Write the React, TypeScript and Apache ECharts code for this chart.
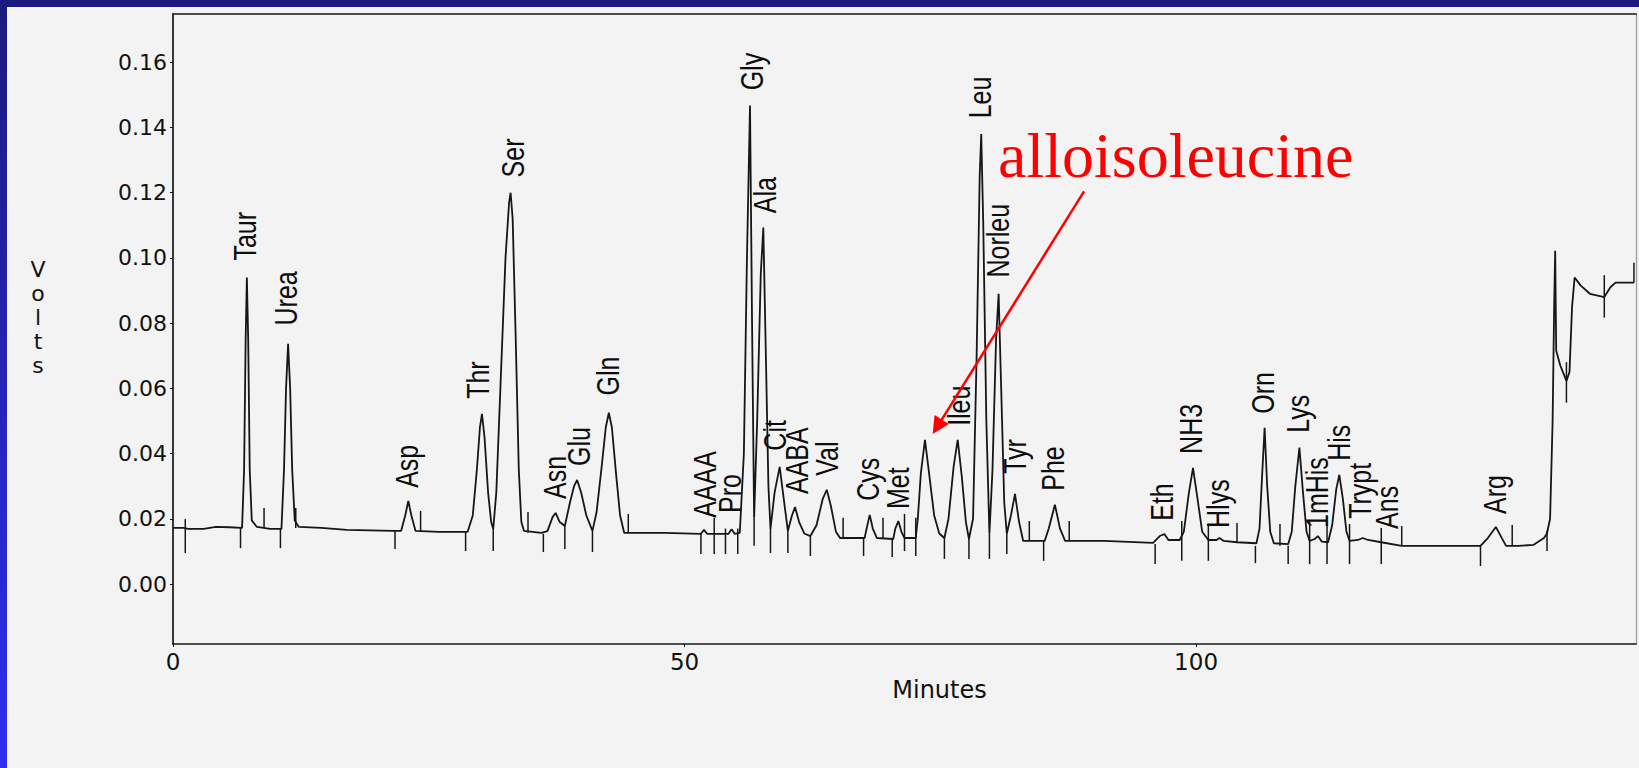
import React, { useEffect, useRef } from 'react';
import * as echarts from 'echarts';

// ---- chromatogram trace (minutes, volts) ----
const traceMinutes = [
  0, 1.0, 1.5, 3.0, 4.2, 5.5, 6.75, 6.95, 7.1, 7.22, 7.35, 7.5, 7.7, 8.2, 9.5,
  10.6, 10.85, 11.05, 11.25, 11.45, 11.65, 11.9, 12.3, 14.5, 17.0, 21.5,
  22.3, 22.7, 23.0, 23.3, 23.7, 26.0, 28.8, 29.3, 29.7, 30.0, 30.2, 30.45, 30.8, 31.1, 31.3,
  31.6, 32.0, 32.5, 32.85, 33.0, 33.2, 33.5, 33.8, 34.05, 34.3, 36.0,
  36.6, 37.1, 37.4, 37.8, 38.3, 38.8, 39.2, 39.5, 39.9, 40.4, 41.0,
  41.4, 41.9, 42.3, 42.6, 42.9, 43.3, 43.7, 44.1, 48.0, 51.6, 51.9, 52.2, 53.5,
  54.3, 54.6, 54.9, 55.4, 55.8, 56.1, 56.4, 56.6, 56.8, 57.1, 57.45, 57.7, 57.95, 58.2, 58.4,
  58.8, 59.3, 59.7, 60.1, 60.5, 60.8, 61.2, 61.7, 62.3, 62.9, 63.5, 63.9, 64.3, 64.8, 65.2,
  67.6, 67.8, 68.1, 68.4, 68.8, 70.4, 70.6, 70.9, 71.2, 71.5, 72.6,
  72.8, 73.1, 73.5, 73.9, 74.4, 74.9, 75.4, 75.8, 76.3, 76.7, 77.1, 77.5, 77.8,
  78.2, 78.55, 78.85, 79.0, 79.2, 79.5, 79.8, 80.1, 80.45, 80.7, 80.95, 81.25, 81.5,
  81.9, 82.3, 82.7, 83.1, 85.2, 85.6, 86.2, 86.7, 87.2, 91.0, 95.8,
  96.5, 96.9, 97.3, 98.4, 98.8, 99.3, 99.7, 100.1, 100.6, 101.2, 102.0, 102.3, 102.7, 104.0, 105.9,
  106.2, 106.45, 106.7, 106.95, 107.25, 107.6, 109.0, 109.35, 109.7, 110.1, 110.45, 110.8, 111.1,
  111.6, 111.9, 112.3, 112.9, 113.3, 113.7, 114.0, 114.35, 114.7, 115.0, 115.8, 116.3, 116.8,
  118.1, 120.1, 127.8, 128.5, 129.3, 129.9, 130.3, 131.5, 133.0, 134.0, 134.3,
  134.6, 134.85, 135.0, 135.1, 135.2, 135.6, 136.2, 136.5, 136.75, 137.0, 137.6, 138.5, 139.9,
  140.5, 141.0, 142.8,
];
const traceVolts = [
  0.0172, 0.0172, 0.0169, 0.0169, 0.0175, 0.0174, 0.0172, 0.035, 0.075, 0.094, 0.075, 0.035, 0.0195, 0.0175, 0.0169,
  0.0169, 0.035, 0.06, 0.0737, 0.06, 0.035, 0.0195, 0.0175, 0.0172, 0.0166, 0.0163,
  0.0163, 0.021, 0.0255, 0.021, 0.0163, 0.016, 0.016, 0.021, 0.035, 0.048, 0.0522, 0.045, 0.028, 0.019, 0.0169,
  0.028, 0.06, 0.1, 0.117, 0.12, 0.112, 0.075, 0.035, 0.019, 0.0163, 0.0157,
  0.0162, 0.0205, 0.0218, 0.019, 0.0178, 0.025, 0.03, 0.0319, 0.028, 0.021, 0.0163,
  0.022, 0.036, 0.048, 0.0525, 0.048, 0.034, 0.021, 0.0157, 0.0157, 0.0154, 0.0166, 0.0154, 0.0154,
  0.0154, 0.0168, 0.0154, 0.0157, 0.04, 0.1, 0.1467, 0.08, 0.0203, 0.05, 0.095, 0.1093, 0.07, 0.03, 0.0169,
  0.028, 0.0359, 0.026, 0.0163, 0.021, 0.0236, 0.019, 0.0155, 0.0147, 0.018, 0.026, 0.0289, 0.024, 0.016, 0.0141,
  0.0141, 0.017, 0.0212, 0.017, 0.0141, 0.0138, 0.017, 0.0193, 0.016, 0.0141, 0.0141,
  0.02, 0.034, 0.0442, 0.034, 0.021, 0.0155, 0.0141, 0.02, 0.036, 0.0442, 0.033, 0.019, 0.0138,
  0.02, 0.07, 0.125, 0.138, 0.11, 0.05, 0.0154, 0.035, 0.075, 0.089, 0.06, 0.025, 0.0154,
  0.021, 0.0276, 0.019, 0.0132, 0.0132, 0.017, 0.0243, 0.017, 0.0132, 0.0132, 0.0126,
  0.0148, 0.0153, 0.0135, 0.0135, 0.016, 0.028, 0.0356, 0.027, 0.016, 0.0135, 0.0135, 0.0141, 0.0132, 0.0128, 0.0125,
  0.017, 0.033, 0.0479, 0.03, 0.016, 0.0125, 0.0122, 0.016, 0.03, 0.0418, 0.028, 0.016, 0.0132,
  0.0138, 0.0147, 0.013, 0.0128, 0.018, 0.029, 0.0335, 0.026, 0.016, 0.0132, 0.0135, 0.0141, 0.0135,
  0.0128, 0.0117, 0.0117, 0.014, 0.0175, 0.014, 0.0117, 0.0117, 0.012, 0.0141, 0.0155,
  0.02, 0.05, 0.085, 0.1022, 0.0715, 0.067, 0.0623, 0.065, 0.085, 0.094, 0.0915, 0.089, 0.088,
  0.091, 0.0924, 0.0924,
];

// ---- integration marks: minute, volts at one end, volts at the other ----
const markMinutes = [
  1.2, 6.6, 8.9, 10.5, 12.0, 21.7, 24.2, 28.6, 31.3, 34.7, 36.2, 38.3, 41.0, 44.5,
  51.6, 52.9, 54.0, 55.2, 56.8, 58.4, 60.1, 62.3, 65.5, 67.5, 69.4, 70.3, 71.5, 72.6,
  75.4, 77.8, 79.8, 81.5, 83.7, 85.1, 87.6, 96.0, 98.6, 101.2, 104.0, 105.8, 108.2,
  109.0, 111.1, 112.8, 115.0, 118.1, 120.1, 127.8, 130.9, 134.3, 136.2, 139.9, 142.8,
];
const markFrom = [
  0.0199, 0.0172, 0.0172, 0.0169, 0.0172, 0.0163, 0.016, 0.016, 0.0169, 0.0157, 0.0154, 0.0178, 0.0163, 0.0157,
  0.0154, 0.0203, 0.017, 0.017, 0.0203, 0.0169, 0.0163, 0.0147, 0.0141, 0.0141, 0.0141, 0.0138, 0.0215, 0.0203,
  0.0141, 0.0138, 0.0154, 0.0154, 0.0132, 0.0132, 0.0132, 0.0123, 0.0193, 0.0184, 0.0126, 0.0117, 0.0117,
  0.0117, 0.0193, 0.0184, 0.0184, 0.0172, 0.0117, 0.0117, 0.0117, 0.0163, 0.068, 0.0947, 0.0924,
];
const markTo = [
  0.0095, 0.011, 0.0233, 0.011, 0.0233, 0.0107, 0.0224, 0.0101, 0.0101, 0.0221, 0.0098, 0.0107, 0.0098, 0.0215,
  0.0092, 0.0092, 0.0092, 0.0092, 0.0117, 0.0095, 0.0095, 0.0086, 0.0203, 0.0086, 0.0203, 0.0083, 0.0101, 0.0086,
  0.0077, 0.0077, 0.0077, 0.0092, 0.0193, 0.0071, 0.0193, 0.0061, 0.0071, 0.0071, 0.0187, 0.0064, 0.0184,
  0.0061, 0.0061, 0.0061, 0.0061, 0.0061, 0.0178, 0.0055, 0.0181, 0.0101, 0.0556, 0.0817, 0.0985,
];

// ---- peak names with the minute and level they are written at ----
const peakNames = [
  'Taur', 'Urea', 'Asp', 'Thr', 'Ser', 'Asn', 'Glu', 'Gln', 'AAAA', 'Pro', 'Gly', 'Ala', 'Cit', 'AABA',
  'Val', 'Cys', 'Met', 'Ileu', 'Leu', 'Norleu', 'Tyr', 'Phe', 'Eth', 'NH3', 'Hlys', 'Orn', 'Lys',
  '1mHis', 'His', 'Trypt', 'Ans', 'Arg',
];
const peakMinutes = [
  7.0, 11.0, 22.9, 29.8, 33.2, 37.3, 39.7, 42.5, 52.0, 54.4, 56.6, 57.9, 58.8, 61.0,
  63.9, 67.9, 70.9, 76.8, 78.9, 80.6, 82.3, 86.0, 96.7, 99.5, 102.1, 106.5, 110.0,
  111.8, 114.0, 116.0, 118.7, 129.2,
];
const peakVolts = [
  0.0949, 0.075, 0.0252, 0.0525, 0.1204, 0.0218, 0.0319, 0.0535, 0.016, 0.0175, 0.1471, 0.1094, 0.0366, 0.0233,
  0.0289, 0.0212, 0.0187, 0.0442, 0.1385, 0.0897, 0.0295, 0.0243, 0.0151, 0.0356, 0.0129, 0.0479, 0.0421,
  0.0129, 0.0335, 0.0157, 0.0126, 0.0172,
];

const yTickValues = [0, 0.02, 0.04, 0.06, 0.08, 0.1, 0.12, 0.14, 0.16];
const xTickValues = [0, 50, 100];
const annotationText = 'alloisoleucine';
const arrowStart = [89.05, 0.1204];
const arrowEnd = [74.7, 0.0482];

const Y_MIN = -0.0184;
const Y_MAX = 0.1748;
const X_MAX = 143;

export default function App() {
  const ref = useRef<HTMLDivElement>(null);

  useEffect(() => {
    if (!ref.current) return;
    const chart = echarts.init(ref.current, undefined, { renderer: 'svg' });
    const ink = '#161616';
    const sans = '"DejaVu Sans", "Liberation Sans", Arial, sans-serif';

    const option: any = {
      animation: false,
      backgroundColor: '#f3f3f3',
      grid: {
        left: 173, right: 3, top: 14, bottom: 124,
        outerBoundsMode: 'none',
        containLabel: false,
        show: false,
      },
      xAxis: [
        {
          type: 'value', min: 0, max: X_MAX,
          name: 'Minutes', nameLocation: 'middle', nameGap: 34,
          nameTextStyle: { fontFamily: sans, fontSize: 24, color: '#111', padding: [0, 0, 0, 70] },
          axisLine: { show: true, onZero: false, lineStyle: { color: ink, width: 1.7 } },
          axisTick: { show: true, length: 3, customValues: xTickValues, lineStyle: { color: ink } },
          axisLabel: { customValues: xTickValues, fontFamily: sans, fontSize: 23, color: '#111', margin: 6 },
          splitLine: { show: false },
        },
        {
          type: 'value', min: 0, max: X_MAX, position: 'top',
          axisLine: { show: true, onZero: false, lineStyle: { color: ink, width: 1.7 } },
          axisTick: { show: false }, axisLabel: { show: false }, splitLine: { show: false },
        },
      ],
      yAxis: [
        {
          type: 'value', min: Y_MIN, max: Y_MAX,
          name: 'V\no\nl\nt\ns\n ', nameLocation: 'middle', nameRotate: 0, nameGap: 135,
          nameTextStyle: {
            fontFamily: sans, fontSize: 22, lineHeight: 24, color: '#111',
            align: 'center', verticalAlign: 'middle',
          },
          axisLine: { show: true, onZero: false, lineStyle: { color: ink, width: 1.7 } },
          axisTick: { show: true, length: 3, customValues: yTickValues, lineStyle: { color: ink } },
          axisLabel: {
            customValues: yTickValues, formatter: (v: number) => v.toFixed(2),
            fontFamily: sans, fontSize: 22, color: '#111', margin: 6,
          },
          splitLine: { show: false },
        },
        {
          type: 'value', min: Y_MIN, max: Y_MAX, position: 'right',
          axisLine: { show: true, onZero: false, lineStyle: { color: '#9a9a9a', width: 1.2 } },
          axisTick: { show: false }, axisLabel: { show: false }, splitLine: { show: false },
        },
      ],
      series: [
        {
          type: 'custom',
          name: 'marks',
          silent: true,
          encode: { x: 0, y: [1, 2] },
          data: markMinutes.map((t, i) => [t, markFrom[i], markTo[i]]),
          renderItem: (params: any, api: any) => {
            const a = api.coord([api.value(0), api.value(1)]);
            const b = api.coord([api.value(0), api.value(2)]);
            return {
              type: 'line',
              shape: { x1: a[0], y1: a[1], x2: b[0], y2: b[1] },
              style: { stroke: ink, lineWidth: 1.5 },
            };
          },
          z: 2,
        },
        {
          type: 'line',
          name: 'trace',
          data: traceMinutes.map((t, i) => [t, traceVolts[i]]),
          showSymbol: false,
          symbol: 'none',
          lineStyle: { color: ink, width: 1.8 },
          z: 3,
          markLine: {
            silent: true,
            symbol: ['none', 'triangle'],
            symbolSize: 17,
            label: { show: false },
            lineStyle: { color: '#ff0000', width: 2.5, type: 'solid' },
            data: [[{ coord: arrowStart }, { coord: arrowEnd }]],
          },
        },
        {
          type: 'custom',
          name: 'labels',
          silent: true,
          data: peakMinutes.map((t, i) => [t, peakVolts[i]]),
          renderItem: (params: any, api: any) => {
            const p = api.coord([api.value(0), api.value(1)]);
            return {
              type: 'text',
              x: p[0],
              y: p[1] - 14,
              rotation: Math.PI / 2,
              scaleY: 1.25,
              style: {
                text: peakNames[params.dataIndex],
                font: '25px "Liberation Sans", Arial, sans-serif',
                fill: '#0d0d0d',
                align: 'left',
                verticalAlign: 'middle',
              },
            };
          },
          z: 4,
        },
      ],
      graphic: [
        { type: 'rect', z: 100, shape: { x: 0, y: 0, width: 1639, height: 7 }, style: { fill: '#1b1a7c' } },
        {
          type: 'rect', z: 100, shape: { x: 0, y: 0, width: 7, height: 768 },
          style: {
            fill: {
              type: 'linear', x: 0, y: 0, x2: 0, y2: 1,
              colorStops: [{ offset: 0, color: '#1b1a7c' }, { offset: 1, color: '#2e2ef2' }],
            },
          },
        },
        {
          type: 'text', z: 100, x: 998, y: 155,
          style: {
            text: annotationText,
            font: '64px "Liberation Serif", "Times New Roman", serif',
            fill: '#ff0000',
            verticalAlign: 'middle',
          },
        },
      ],
    };

    chart.setOption(option);
    return () => chart.dispose();
  }, []);

  return (
    <div
      ref={ref}
      style={{ position: 'absolute', left: 0, top: 0, width: 1639, height: 768 }}
    />
  );
}
